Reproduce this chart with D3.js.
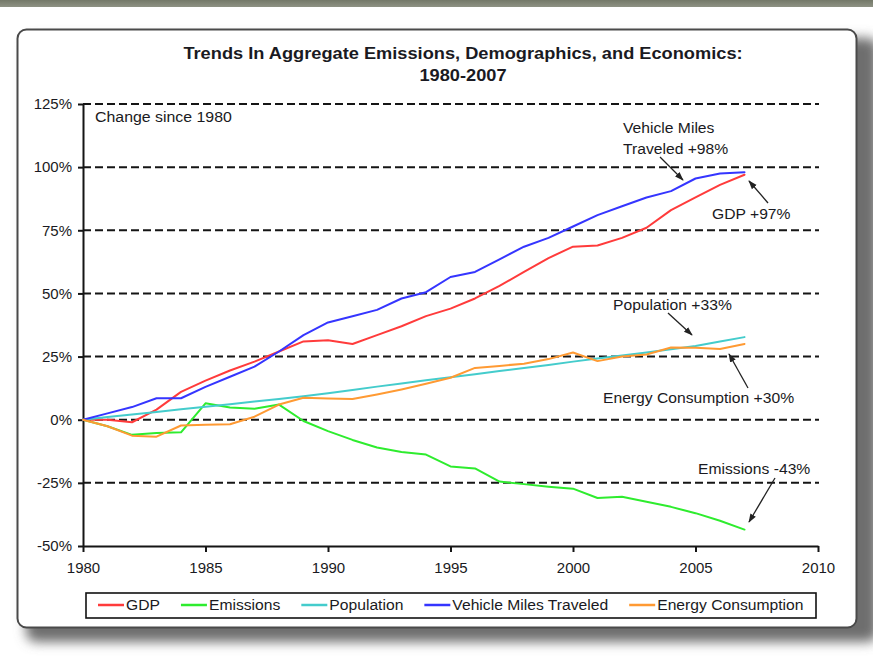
<!DOCTYPE html>
<html><head><meta charset="utf-8">
<script src="https://cdn.jsdelivr.net/npm/d3@7/dist/d3.min.js"></script>
<style>
body{margin:0;background:#fff}
svg{display:block}
text{font-family:"Liberation Sans",Arial,Helvetica,sans-serif;fill:#1a1a22}
</style>
</head><body>
<svg id="chart" width="873" height="657"></svg>
<script>
// ---- data (percent change since 1980) ----
const years = [1980,1981,1982,1983,1984,1985,1986,1987,1988,1989,1990,1991,1992,1993,
               1994,1995,1996,1997,1998,1999,2000,2001,2002,2003,2004,2005,2006,2007];
const gdp        = [0,0,-1,4,11,15.5,19.5,23,27,31,31.5,30,33.5,37,41,44,48,53,58.5,64,68.5,69,72,76,83,88,93,97];
const emissions  = [0,-2.6,-6,-5.3,-5,6.5,4.8,4.3,6,-0.5,-4.5,-8,-11,-12.8,-13.8,-18.5,-19.3,-24.5,-25.5,-26.5,-27.3,-31,-30.5,-32.5,-34.5,-37,-40,-43.5];
const population = [0,1.1,2.1,3.1,4.1,5.1,6.1,7.2,8.2,9.3,10.5,11.8,13.1,14.3,15.6,16.8,18,19.3,20.5,21.7,23,24.2,25.4,26.6,27.9,29.2,31,32.7];
const vmt        = [0,2.5,5,8.5,8.5,13,17,21,27,33.5,38.5,41,43.5,48,50.5,56.5,58.5,63.5,68.5,72,76.5,81,84.5,88,90.5,95.5,97.5,98];
const energy     = [0,-2.6,-6.3,-6.7,-2.3,-2,-1.8,1.2,6,8.7,8.4,8.2,10,12,14.2,16.6,20.5,21.3,22.2,24,26.6,23.2,25,25.8,28.6,28.5,28,30];

const seriesNames  = ["GDP","Emissions","Population","Vehicle Miles Traveled","Energy Consumption"];
const seriesValues = [gdp, emissions, population, vmt, energy];
const seriesColors = ["#ff3b3b","#2eec2e","#44cccc","#3535ff","#ff9a33"];

const yTicks = [-50,-25,0,25,50,75,100,125];
const xTicks = [1980,1985,1990,1995,2000,2005,2010];
const titleLines = ["Trends In Aggregate Emissions, Demographics, and Economics:","1980-2007"];

// annotations: label lines, text anchor position, arrow from/to
const notes = [
  {lines:["Vehicle Miles","Traveled +98%"], x:623, y:133, from:[660,157], to:[683,180]},
  {lines:["GDP +97%"], x:712, y:219, from:[768,203], to:[749,181]},
  {lines:["Population +33%"], x:613, y:310, from:[668,313], to:[692,335]},
  {lines:["Energy Consumption +30%"], x:603, y:403, from:[748,388], to:[729,354]},
  {lines:["Emissions -43%"], x:698, y:474, from:[775,478], to:[749,522]}
];

// ---- drawing ----
const svg = d3.select("#chart");
const FONT = '"Liberation Sans",Arial,Helvetica,sans-serif';
const SX = 1.045; // horizontal stretch of the reference's lettering

function stext(parent, x, y, str, size, sx, anchor, weight){
  const t = parent.append("text")
    .attr("transform",`translate(${x},${y}) scale(${sx},1)`)
    .attr("font-size",size).attr("text-anchor",anchor||"start").text(str);
  if (weight) t.attr("font-weight",weight);
  return t;
}

const defs = svg.append("defs");
const f = defs.append("filter").attr("id","shadow").attr("x","-10%").attr("y","-10%").attr("width","130%").attr("height","130%");
f.append("feGaussianBlur").attr("stdDeviation",6);
const mk = defs.append("marker").attr("id","arrow").attr("viewBox","0 0 10 10")
  .attr("refX",9).attr("refY",5).attr("markerWidth",9).attr("markerHeight",9)
  .attr("orient","auto").attr("markerUnits","userSpaceOnUse");
mk.append("path").attr("d","M0,1.5 L10,5 L0,8.5 Z").attr("fill","#222");

// page background
svg.append("rect").attr("width",873).attr("height",657).attr("fill","#ffffff");
const band = defs.append("linearGradient").attr("id","band").attr("x1",0).attr("y1",0).attr("x2",0).attr("y2",1);
band.append("stop").attr("offset",0).attr("stop-color","#737868");
band.append("stop").attr("offset",1).attr("stop-color","#8e9284");
svg.append("rect").attr("x",0).attr("y",0).attr("width",873).attr("height",7).attr("fill","url(#band)");

// frame with shadow
svg.append("rect").attr("x",26).attr("y",38).attr("width",852).attr("height",604).attr("rx",10)
  .attr("fill","#6e6e6e").attr("filter","url(#shadow)");
svg.append("rect").attr("x",17.5).attr("y",29.5).attr("width",839).attr("height",598).attr("rx",9)
  .attr("fill","#ffffff").attr("stroke","#4a4a4a").attr("stroke-width",2);

// title
const tg = svg.append("g");
titleLines.forEach((d,i)=>stext(tg, 463, 59+i*22, d, 16.5, 1.105, "middle", "bold"));

// scales
const x = d3.scaleLinear().domain([1980,2010]).range([83,818]);
const y = d3.scaleLinear().domain([-50,125]).range([546,104]);

// dashed gridlines
svg.append("g").selectAll("line").data(yTicks.filter(t=>t>-50)).join("line")
  .attr("x1",x(1980)).attr("x2",x(2010)+1).attr("y1",d=>y(d)).attr("y2",d=>y(d))
  .attr("stroke","#151515").attr("stroke-width",2).attr("stroke-dasharray","8,4");

// axes
const yAxis = svg.append("g").attr("transform",`translate(${x(1980)},0)`)
  .call(d3.axisLeft(y).tickValues(yTicks).tickSize(5).tickSizeOuter(0).tickPadding(6).tickFormat(d=>d+"%"));
const xAxis = svg.append("g").attr("transform",`translate(0,${y(-50)})`)
  .call(d3.axisBottom(x).tickValues(xTicks).tickSize(6).tickSizeOuter(0).tickPadding(10).tickFormat(d3.format("d")));
[yAxis,xAxis].forEach(a=>{
  a.attr("font-size",15).attr("font-family",FONT);
  a.selectAll("path,line").attr("stroke","#151515").attr("stroke-width",2);
  a.selectAll("text").attr("fill","#1a1a22");
});

// series lines
const line = d3.line().x((d,i)=>x(years[i])).y(d=>y(d));
svg.append("g").selectAll("path").data(seriesValues).join("path")
  .attr("d",d=>line(d)).attr("fill","none")
  .attr("stroke",(d,i)=>seriesColors[i]).attr("stroke-width",2)
  .attr("stroke-linejoin","round").attr("stroke-linecap","round");

// "Change since 1980"
stext(svg, 95, 122, "Change since 1980", 15, 1.06);

// annotations
const ng = svg.append("g");
notes.forEach(n=>{
  n.lines.forEach((t,i)=>stext(ng, n.x, n.y+i*21, t, 15, SX));
  ng.append("line").attr("x1",n.from[0]).attr("y1",n.from[1]).attr("x2",n.to[0]).attr("y2",n.to[1])
    .attr("stroke","#222").attr("stroke-width",1.3).attr("marker-end","url(#arrow)");
});

// legend
const lg = svg.append("g");
lg.append("rect").attr("x",86).attr("y",593).attr("width",730).attr("height",25)
  .attr("fill","#fff").attr("stroke","#111").attr("stroke-width",1.6);
let cx = 98;
seriesNames.forEach((name,i)=>{
  lg.append("line").attr("x1",cx).attr("x2",cx+26).attr("y1",605).attr("y2",605)
    .attr("stroke",seriesColors[i]).attr("stroke-width",2.5);
  const t = stext(lg, cx+28, 610, name, 15, SX);
  cx += 28 + t.node().getComputedTextLength()*SX + 21;
});
</script>
</body></html>
